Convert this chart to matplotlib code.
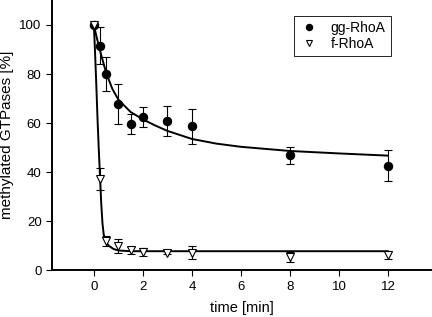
import numpy as np
import matplotlib.pyplot as plt

plt.rcParams['font.family'] = ['Liberation Sans', 'DejaVu Sans']

# measured points
t = [0, 0.25, 0.5, 1, 1.5, 2, 3, 4, 8, 12]
gg = [100, 91.5, 80, 67.8, 59.5, 62.5, 60.8, 58.6, 46.9, 42.5]
gg_err = [0, 7.5, 7, 8, 4, 4, 6, 7, 3.5, 6.3]
f = [100, 37.3, 12, 9.8, 8, 7.4, 7.1, 7.1, 5.3, 6.2]
f_err = [0, 4.5, 2, 2.7, 1.5, 1.5, 0.5, 2.6, 2.2, 1.6]

# fitted curves
gg_fit_t = [0, 0.1, 0.25, 0.5, 0.75, 1, 1.5, 2, 2.5, 3, 4, 5, 6, 8, 10, 12]
gg_fit = [100, 95.5, 89.5, 80.5, 74, 69.5, 64.5, 61.5, 59, 56.8, 53.5, 51.6, 50.3, 48.6, 47.6, 46.7]
f_fit_t = [0, 0.05, 0.1, 0.15, 0.2, 0.25, 0.3, 0.35, 0.4, 0.5, 0.6, 0.8, 1.0, 1.5, 2, 4, 8, 12]
f_fit = [100, 88, 75, 61, 49, 38, 27, 19, 14.5, 11.3, 10, 8.6, 8.0, 7.7, 7.7, 7.7, 7.7, 7.7]

fig = plt.figure(figsize=(4.32, 3.17), dpi=100)
ax = fig.add_axes([0.1204, 0.148, 0.8796, 0.852])

ax.plot(gg_fit_t, gg_fit, color='black', lw=1.4, zorder=2)
ax.plot(f_fit_t, f_fit, color='black', lw=1.4, zorder=2)

ax.errorbar(t, gg, yerr=gg_err, fmt='o', color='black', ms=5.8, capsize=3,
            elinewidth=0.8, capthick=0.8, label='gg-RhoA', zorder=3)
ax.errorbar(t, f, yerr=f_err, fmt='v', color='black', mfc='white', mec='black',
            ms=6.2, mew=0.8, capsize=3, elinewidth=0.8, capthick=0.8,
            label='f-RhoA', zorder=4)

ax.set_xlim(-1.71, 13.8)
ax.set_ylim(0, 110.2)
ax.set_xticks([0, 2, 4, 6, 8, 10, 12])
ax.set_yticks([0, 20, 40, 60, 80, 100])
ax.tick_params(direction='out', length=4, width=0.8, labelsize=9.5)
ax.spines['top'].set_visible(False)
ax.spines['right'].set_visible(False)
ax.spines['left'].set_linewidth(1.4)
ax.spines['bottom'].set_linewidth(1.4)

ax.set_xlabel('time [min]', fontsize=10.5, labelpad=6)
ax.set_ylabel('methylated GTPases [%]', fontsize=11, labelpad=4)

handles, labels = ax.get_legend_handles_labels()
handles = [h[0] for h in handles]
leg = ax.legend(handles, labels, loc='upper left', bbox_to_anchor=(0.637, 0.941),
                borderaxespad=0, fontsize=10, fancybox=False, edgecolor='black',
                framealpha=1, markerscale=0.75, handlelength=1.4, handletextpad=0.9,
                borderpad=0.35, labelspacing=0.15)
leg.get_frame().set_linewidth(0.6)

fig.savefig('out.png', dpi=100)
